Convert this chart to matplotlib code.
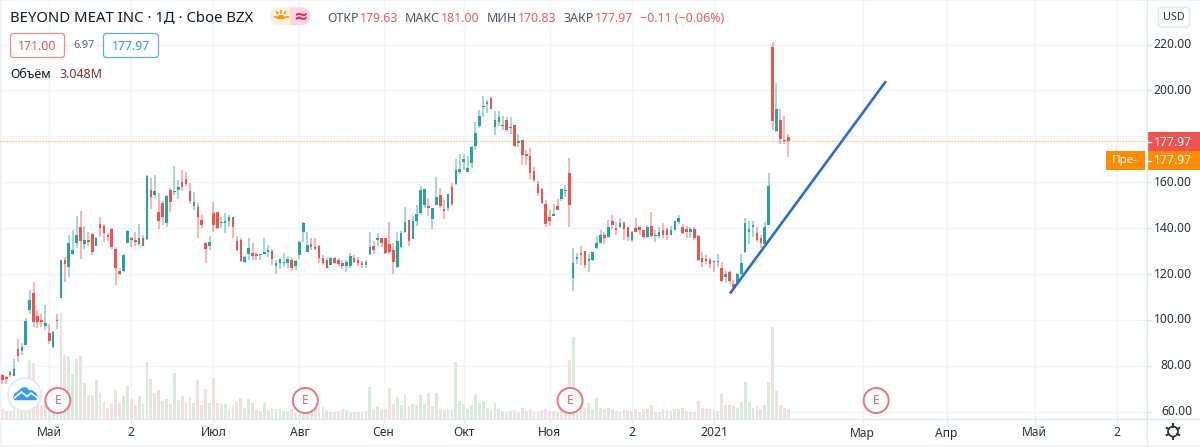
import numpy as np
import matplotlib
matplotlib.use("Agg")
import matplotlib.pyplot as plt
from matplotlib.patches import FancyBboxPatch, Rectangle, Circle, Wedge, Polygon

plt.rcParams['font.family'] = ['Noto Sans', 'DejaVu Sans']

# ---------- data ----------
opens = [76.1,75.1,77.4,75.7,87.2,86.4,88.9,104.2,111.8,101.6,100.1,97.5,94.3,88.2,100.1,109.7,126.3,123.1,128.9,133.6,140.3,133,134.8,137.4,132.1,141.8,140.9,136.9,139.7,130.7,121.2,121.4,133.6,135.9,134.8,133,135.9,135.3,156.6,154.3,147,151.1,142.3,156.6,155.7,156.6,160.1,161.3,156.3,149.6,149,
 143.5,133.6,132.1,146.7,146.8,142.3,142.3,143.2,145,134.5,134.8,125.3,128.7,129.2,128.5,128.2,128.9,129.7,130.1,123.4,125,124.7,125,126.3,123.7,128.2,138.4,129.7,133,131.9,132.1,127,126.3,124.1,126.9,126,124.9,123.7,123.7,126.8,126.3,124.9,124,128.9,132.1,134.8,135.9,135.6,133,130.4,123.1,
 131.7,138.2,143.6,135.3,143.3,146.5,149.9,149.7,143.9,149.9,154.3,148.3,148.9,157.9,159.3,164.4,168.8,164.6,168.4,175.6,184.5,192.8,194,196.6,184.1,186.1,184.4,187,183.4,184.8,177.1,178.3,172.4,171.3,164.7,159.3,157.2,150.3,144.8,145.2,149.7,152.8,156.1,164,118.1,126.4,129.1,130.1,125.6,125.9,131.4,
 133.7,137.2,136,143.3,140.1,140.4,142.2,140.4,134.9,140.1,140.4,139,136.1,141.1,136.6,136.6,139,139.4,137.2,139.3,142.5,140.4,139.4,138.1,139.4,136.5,127,126.4,125.9,125.6,125.1,122.7,118.6,120.8,115.7,116.4,120,129.5,138.1,140.4,137.9,135.8,133.1,141.4,218.7,182.2,187,178.6,179.63]
closes = [73.9,74.2,76.2,78.7,84.3,88.2,99.4,108.6,98.9,98.9,98.9,98.7,90.8,94.7,99.5,126,124.3,133.3,130.4,136.8,134.2,135,133.9,129.7,135.9,140.1,138,136,131.6,122.4,120.2,128.2,138.8,135,134,135.9,132.4,162.7,153.4,156.2,142.9,144.7,154,151.4,156.3,158,157.8,159.2,151.9,151.5,144.7,
 141.2,131.1,134,141.2,139.9,142.8,143.1,144.7,140.6,130.4,125.6,127.5,131.3,127.9,127.9,128.7,129.8,130.4,126.6,124.9,126.5,125.3,126.6,122.4,125.6,134,142.3,132.7,131.9,131.1,127,124.6,122.8,126.8,124.6,124.3,123.7,125.2,127.8,125.4,124.6,124,125.2,131.9,130.4,135.6,133.3,129.2,129.5,125.3,134.3,
 137.8,142.6,134.3,143,146.2,156.4,157,148.6,148.6,153.5,149.7,147.4,154.7,150.3,165.5,165.9,170.3,166,175.4,181.6,189,193.3,195,191.8,187.3,188.2,184.8,182.9,184.1,175.6,177.8,171.7,171.3,164,160.8,155.3,151,141.6,143,146.2,148,157,156.7,150,124.7,127.3,128.2,124.1,126.7,129.4,133.7,
 137.1,135.8,140.4,141.2,139,142.2,139.4,136.3,138.1,138.5,139,136.1,140.4,136.5,137.2,138.4,137.2,136.9,139,142.9,144.2,137.8,138.1,139.4,135.8,125.9,125.3,125.6,124.4,125.1,125.6,116.8,120,116.8,114.2,120,125,142.2,139.8,141.3,134.6,133.7,140.4,158.3,186.7,192.1,179,178.08,177.97]
highs = [76.5,75.4,77.7,83.1,91.8,89.9,101,112.9,116.6,104.5,102.4,106.7,98.4,95.2,102.4,126.3,127.5,136.9,139.1,145.2,147.4,140.9,138.4,137.7,136.2,144.7,141.8,138,139.9,131.6,122.4,128.5,139.1,136.2,138.4,142,136.9,163,161.7,163.2,155.1,151.7,154.4,157.3,167.1,161,165.3,164.6,159.5,155.9,150.8,
 145.7,134,136.5,151.4,147.1,144.7,146.4,145.7,145,136.5,135.9,127.8,135.5,133.6,129.7,128.9,135.5,132.6,131.1,126,126.8,129.2,127.9,126.8,126,134.5,142.5,138.4,135.9,135.9,132.6,128.2,126.8,127.2,127.2,126.8,126.3,126.3,129.2,128.4,127.5,125.6,126,138.4,134.3,138,135.9,135.6,142.6,133.3,138.1,
 138.9,149.2,143.6,145.1,149.9,158.3,157,153.1,148.9,162.3,157.3,152.1,155,159.8,170.3,172.1,172.1,171.4,175.6,186.3,191.4,197.5,195.7,197.2,191.1,191.1,188.7,188.2,188.5,184.8,180.9,178.6,173.9,175.1,166.6,160.5,157.3,152.1,147.7,150.3,152.8,157.2,158.6,170.5,131.4,129.2,132.3,130.2,128.8,129.6,136.6,
 139.3,138.2,143.6,145.5,142.6,144.2,143,140.4,138.7,144.3,140.7,139.3,141.3,147,139.3,140.4,142.2,140.1,141.1,143.3,145.5,141.6,141,140.4,140.4,136.8,129.5,128.2,127,125.9,128.5,125.1,121.2,121.1,117.4,120.3,128.5,144.3,143.3,143.3,140.4,136.8,142.6,164,220.9,203.3,191.7,189,181]
lows = [71.9,72.2,75.1,75.4,81.5,84.5,88.9,102.4,96.9,96.6,96.9,95.8,89.3,87.9,96,109.5,116.4,118.7,128.4,131.3,126.6,130.7,132.1,128.4,132,136.2,133.9,134.2,131.1,115.3,119.5,120.9,133.3,131.9,132.1,132.1,132.1,135,148.2,153,139.7,141.3,140.6,147.1,154.3,152.5,156.3,158.3,150.5,147.9,135.6,
 139.9,124.6,130.4,138.4,139.6,139.9,138,140.6,135.9,130.1,125.3,124.9,126.3,126.3,126.3,126.3,128.5,127.5,123.8,119.8,122,123.1,122.4,121.4,121.7,126.6,134,129.7,130.4,130.4,124.6,123.8,122.4,123.8,124.3,123.4,122.2,120.8,122.7,125,123.7,122.5,122.8,128.2,128.8,132.4,131.6,128.9,128.7,119.9,122.7,
 131.4,137.8,132,135.3,140.7,145.5,148.9,145.1,139.5,149.9,148.9,144.1,147.4,149.6,158.8,163.4,165.2,164.3,166,174.2,183.8,188.2,190.2,191.7,180.5,184.4,182.9,181.9,180.9,175.4,175.4,167.3,167.5,161.5,159.9,154.1,150.3,140.4,140.7,145.1,147.7,151.8,153.5,140.4,112.5,124.4,124.1,122.4,120.8,125.6,131.1,
 133.4,133.1,135.8,139.4,137.2,140.1,134.9,134.3,133.9,138.2,137.1,135.2,135.8,136.1,133.9,135.8,135.8,134.6,136.9,139,141.9,137.5,135.8,135.5,134.6,125.6,123.2,124.4,122.7,120.8,123.2,116.4,116,115.7,113.9,115.4,119.7,129.1,133.1,136.3,134,131.4,132.9,141.2,182.9,181.9,176.5,176.8,170.83]
volumes = [3.1,2.4,2.4,3.3,6.1,9.4,12.7,19.3,18.4,7.2,4.4,4.4,6.1,8.3,11,34.7,20.9,20.6,14.6,19.6,20.6,11.8,7.9,7.7,12.7,8.3,5.4,3.6,4.7,9.5,5,7.4,10.8,6.6,4.6,7.4,4.7,18.6,12.9,8.5,9.4,5.7,6.5,4.7,14.9,6.1,7.4,5.5,7.2,5,12.7,
 4.4,9.7,5.1,13.5,5.1,4.7,4.7,3.2,4.4,5.6,6.7,3.6,6.6,5.1,2.8,2.5,5,2.8,3.6,3,3.2,2.5,2.5,3,1.7,3.9,4.4,3.3,4.6,3.6,3.3,3.7,2.8,2,2.2,2.5,3.2,2.8,2.2,2.3,2.3,2.3,2.5,10.3,3.1,4.2,3,3.2,10.1,4.7,7,
 4.4,7.8,4.1,4.7,4.3,7.9,4.7,8.4,4.1,8.4,3.2,2.8,3,3,18.7,5.8,4.7,3.2,4.3,8,5.2,5.8,3.4,2.8,5,3,2.5,2.2,2.5,2.8,2.3,3.4,2.5,3,2.6,2.5,2.8,3.3,2.5,2.5,2.2,3.3,2.8,19.3,27,3.9,3.6,3.6,5.2,3.2,6.9,
 3.4,3,3.6,3,2.4,2.1,2.9,2.9,2.4,3.3,2.3,3.1,3.1,4.3,2.3,2.3,3.3,2.9,2.5,3.1,3,3.4,2.6,2.3,2.2,5.8,3.6,3.2,3,3.1,2.6,8,4.4,4.4,4.1,3.4,5.6,12,5.4,3.6,4,3.1,4.4,12,30.1,9,4.4,3.4,3.05]

price_ticks = [60, 80, 100, 120, 140, 160, 180, 200, 220]
price_tick_labels = ["60.00", "80.00", "100.00", "120.00", "140.00", "160.00", "", "200.00", "220.00"]
time_tick_pos = [12, 33, 54, 76, 97.5, 118, 140, 161, 182, 220, 241.5, 264, 285]
time_tick_labels = ["Май", "2", "Июл", "Авг", "Сен", "Окт", "Ноя", "2", "2021", "Мар", "Апр", "Май", "2"]
last_close = 177.97
trend_x = [186.1, 226.0]
trend_y = [111.5, 204.0]
earnings_pos = [14.2, 77.5, 145.2, 223.5]

UP, DOWN = "#26a69a", "#ef5350"
GRID = "#f2f4f9"
AXIS = "#e3e6ee"
TXT = "#131722"
W, H = 1200, 447
PLOT_R, PLOT_B = 1146.5, 418.5

# ---------- figure ----------
fig = plt.figure(figsize=(W / 100, H / 100), dpi=100, facecolor="#f0f3fa")
fig.add_artist(Rectangle((1.5 / W, 1 - 445 / H), (W - 1.5) / W, 444 / H, transform=fig.transFigure,
                         fc="white", ec="none", zorder=-5))

ax = fig.add_axes([0, 1 - PLOT_B / H, PLOT_R / W, PLOT_B / H])
ax.patch.set_alpha(0)
ax.set_xlim((0 - 2.3) / 3.91, (PLOT_R - 2.3) / 3.91)
ax.set_ylim(220 - (PLOT_B - 44.5) / 2.295, 220 + 44.5 / 2.295)
for s in ax.spines.values():
    s.set_visible(False)
ax.set_xticks(time_tick_pos)
ax.set_xticklabels([])
ax.set_yticks(price_ticks)
ax.set_yticklabels([])
ax.tick_params(length=0)
ax.grid(True, color=GRID, lw=1)
ax.set_axisbelow(True)

vol = ax.twinx()
vol.set_ylim(0, PLOT_B * 0.33)
vol.axis("off")
vol.set_zorder(1)
idx = np.arange(len(opens))
o, c, h_, l_ = map(np.array, (opens, closes, highs, lows))
up = c >= o
vol.bar(idx, volumes, width=0.72, color=np.where(up, "#d9ecdc", "#f1e0e1"), zorder=1)

pr = fig.add_axes(ax.get_position(), sharex=ax, sharey=ax)
pr.patch.set_alpha(0)
pr.axis("off")
pr.set_zorder(2)
colors = np.where(up, UP, DOWN)
pr.vlines(idx, l_, h_, colors=colors, lw=1.2, alpha=0.5, zorder=2)
pr.bar(idx, np.maximum(np.abs(c - o), 0.4), bottom=np.minimum(o, c), width=0.66, color=colors, zorder=3)
pr.axhline(last_close, color="#f7b267", lw=0.9, ls=(0, (1, 1.4)), zorder=1.5)
pr.plot(trend_x, trend_y, color="#2f6bd8", lw=1.9, solid_capstyle="butt", zorder=4)

# ---------- overlay in pixel space ----------
ov = fig.add_axes([0, 0, 1, 1])
ov.set_xlim(0, W)
ov.set_ylim(H, 0)
ov.axis("off")
ov.patch.set_alpha(0)
ov.set_zorder(5)

ov.plot([PLOT_R, PLOT_R], [0, 445], color=AXIS, lw=1)
ov.plot([0, W], [PLOT_B, PLOT_B], color=AXIS, lw=1)

def t(x, y, s, color=TXT, size=8.6, ha="left", **kw):
    return ov.text(x, y, s, color=color, fontsize=size, ha=ha, va="center", **kw)

def to_py(v):
    return 44.5 + (220 - v) * 2.295

def to_px(i):
    return 2.3 + 3.91 * i

for v, lab in zip(price_ticks, price_tick_labels):
    if lab:
        y = to_py(v)
        ov.plot([PLOT_R, PLOT_R + 4], [y, y], color=AXIS, lw=1)
        t(1192, y, lab, ha="right", size=8.7, color="#2a2e39")

for pos, lab in zip(time_tick_pos, time_tick_labels):
    x = to_px(pos)
    ov.plot([x, x], [PLOT_B, PLOT_B + 3], color=AXIS, lw=1)
    if lab == "2021":
        t(x, 433, lab, ha="center", size=8.8, fontweight="bold", color="#2a2e39")
    else:
        t(x, 433, lab, ha="center", size=8.7, color="#2a2e39")

# header
t(10, 17.5, "BEYOND MEAT INC · 1Д · Cboe BZX", size=10.7)
pill_l = FancyBboxPatch((270, 7.5), 40, 17.5, boxstyle="round,pad=0,rounding_size=8.7", fc="#fff0d9", ec="none")
ov.add_patch(pill_l)
pill_r = FancyBboxPatch((270, 7.5), 40, 17.5, boxstyle="round,pad=0,rounding_size=8.7", fc="#fbd5e2", ec="none")
ov.add_patch(pill_r)
pill_r.set_clip_path(Rectangle((290, 0), 30, 40, transform=ov.transData))
ov.add_patch(Wedge((281, 19), 4.2, 180, 360, fc="#ff9800", ec="none"))
ov.plot([274.5, 276.5], [16.5, 16.5], color="#ff9800", lw=1.2)
ov.plot([285.5, 287.5], [16.5, 16.5], color="#ff9800", lw=1.2)
ov.plot([281, 281], [10.5, 12.5], color="#ff9800", lw=1.2)
ov.plot([276.5, 277.5], [12, 13.3], color="#ff9800", lw=1.2)
ov.plot([285.5, 284.5], [12, 13.3], color="#ff9800", lw=1.2)
t(300, 16.5, "≈", color="#e91e63", size=12.5, ha="center", fontweight="bold")

x = 327
renderer = fig.canvas.get_renderer()
for lab, val in [("ОТКР", "179.63"), ("МАКС", "181.00"), ("МИН", "170.83"), ("ЗАКР", "177.97")]:
    a = t(x, 19, lab, color="#4f5461", size=8.9)
    x2 = a.get_window_extent(renderer).x1 + 1
    b = t(x2, 19, val, color="#f05a5a", size=8.9)
    x = b.get_window_extent(renderer).x1 + 7
t(640, 19, "−0.11 (−0.06%)", color="#f05a5a", size=8.9)

ov.add_patch(FancyBboxPatch((10.5, 33.5), 54, 24, boxstyle="round,pad=0,rounding_size=3", fc="white", ec="#f08a8a", lw=0.9))
t(37.5, 46, "171.00", color="#ef5350", size=8.9, ha="center")
t(73, 45.5, "6.97", color="#5d606b", size=7.7)
ov.add_patch(FancyBboxPatch((103.5, 33.5), 55, 24, boxstyle="round,pad=0,rounding_size=3", fc="white", ec="#5aaef5", lw=0.9))
t(131, 46, "177.97", color="#2196f3", size=8.9, ha="center")
t(10, 75, "Объём", size=8.9)
t(59, 75, "3.048M", color="#8b2a2a", size=8.9)

# USD box
ov.add_patch(FancyBboxPatch((1158.5, 7.5), 31, 19.5, boxstyle="round,pad=0,rounding_size=3", fc="white", ec="#e3e6ee", lw=1))
t(1174, 17.5, "USD", ha="center", size=7.8, color="#2a2e39")

# price labels
ov.add_patch(Rectangle((PLOT_R, 132), W - PLOT_R, 19.5, fc="#ef5350", ec="none"))
t(1173.5, 142, "177.97", color="white", size=8.8, ha="center", zorder=6)
ov.add_patch(Rectangle((PLOT_R, 151), W - PLOT_R, 19, fc="#ff8c00", ec="none"))
t(1173.5, 160.5, "177.97", color="white", size=8.8, ha="center", zorder=6)
ov.add_patch(Rectangle((1106, 151), 39, 19, fc="#ff8c00", ec="none"))
t(1125, 160.5, "Пре-", color="white", size=8.4, ha="center", zorder=6)
ov.plot([PLOT_R, PLOT_R + 4], [142, 142], color="white", lw=1, zorder=6)
ov.plot([PLOT_R, PLOT_R + 4], [160.5, 160.5], color="white", lw=1, zorder=6)

# earnings markers
for p in earnings_pos:
    cx = to_px(p)
    ov.add_patch(Circle((cx, 400.5), 12.5, fc="white", ec="#f0737c", lw=1.4, zorder=6))
    t(cx, 400.5, "E", color="#f0606c", size=8.8, ha="center", fontweight="bold", zorder=7)

# logo
ov.add_patch(Circle((24.5, 394.5), 16.5, fc="white", ec="#e6e8ee", lw=1.2, zorder=6))
ov.add_patch(Polygon([(14, 397), (15, 394), (19, 391.5), (22, 388.3), (26, 388), (29, 391), (32, 391), (35, 393), (37, 396), (36, 399.5), (15, 399.5)],
                     closed=True, fc="#2f9cf0", ec="#2f9cf0", lw=1, joinstyle="round", zorder=7))
ov.plot([15, 21.5, 27, 31, 36.5], [397.5, 392, 396.5, 393.2, 397], color="white", lw=1.3, zorder=8)

# gear
ov.add_patch(Circle((1173, 431.5), 5, fc="white", ec="#2a2e39", lw=1.2))
for a in np.deg2rad(np.arange(0, 360, 60) + 30):
    ov.plot([1173 + 5 * np.cos(a), 1173 + 7.2 * np.cos(a)], [431.5 + 5 * np.sin(a), 431.5 + 7.2 * np.sin(a)], color="#2a2e39", lw=1.4)

fig.savefig("out.png", dpi=100, facecolor=fig.get_facecolor())
